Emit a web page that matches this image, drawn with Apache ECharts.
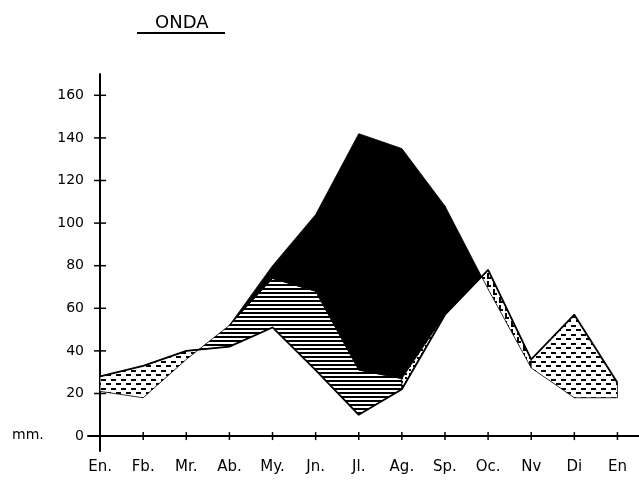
<!DOCTYPE html>
<html>
<head>
<meta charset="utf-8">
<script src="https://cdn.jsdelivr.net/npm/echarts@6/dist/echarts.min.js"></script>
<style>
  html, body { margin: 0; padding: 0; background: #fff; }
  #chart { width: 639px; height: 484px; }
</style>
</head>
<body>
<div id="chart"></div>
<script>
// meses (el último es enero otra vez)
var months = ['En.', 'Fb.', 'Mr.', 'Ab.', 'My.', 'Jn.', 'Jl.', 'Ag.', 'Sp.', 'Oc.', 'Nv', 'Di', 'En'];
var monthTicks = [0, 1, 2, 3, 4, 5, 6, 7, 8, 9, 10, 11, 12];
var yTicks = [0, 20, 40, 60, 80, 100, 120, 140, 160];

// precipitación, ETP y ETR en mm
var precip = [28, 33, 40, 42, 51, 31, 10, 22, 57, 78, 36, 57, 25];
var etp    = [21, 18, 36, 52, 80, 104, 142, 135, 108, 69, 32, 18, 18];
var etr    = [21, 18, 36, 52, 74, 68, 31, 27, 57, 69, 32, 18, 18];

var FONT = 'DejaVu Sans';

function valueAt(arr, x) {
  var i = Math.min(Math.floor(x), arr.length - 2);
  var t = x - i;
  return arr[i] * (1 - t) + arr[i + 1] * t;
}

// punto donde se cruzan dos curvas dentro del tramo i..i+1
function crossing(a, b, i) {
  var d0 = a[i] - b[i], d1 = a[i + 1] - b[i + 1];
  return i + d0 / (d0 - d1);
}

function makePattern(w, h, draw) {
  var c = document.createElement('canvas');
  c.width = w;
  c.height = h;
  var ctx = c.getContext('2d');
  ctx.fillStyle = '#fff';
  ctx.fillRect(0, 0, w, h);
  ctx.fillStyle = '#000';
  draw(ctx);
  return { image: c, repeat: 'repeat' };
}

var dashes = makePattern(10, 9, function (ctx) {
  ctx.fillRect(1, 1, 5, 2);
  ctx.fillRect(6, 5, 4, 2);
  ctx.fillRect(0, 5, 1, 2);
});
var hatch = makePattern(4, 4, function (ctx) {
  ctx.fillRect(0, 0, 4, 2);
});
var dots = makePattern(4, 4, function (ctx) {
  ctx.fillRect(1, 1, 2, 2);
});
var recharge = makePattern(6, 8, function (ctx) {
  ctx.fillRect(1, 1, 2, 5);
  ctx.fillRect(1, 5, 4, 2);
});

var c1 = crossing(precip, etp, 2);
var c2 = crossing(precip, etp, 8);

// zonas: exceso, utilización, déficit, recarga
var regions = [
  { upper: precip, lower: etp, from: 0, to: c1, fill: dashes },
  { upper: etr, lower: precip, from: c1, to: 7, fill: hatch },
  { upper: etp, lower: etr, from: 3, to: 8, fill: '#000' },
  { upper: etp, lower: precip, from: 8, to: c2, fill: '#000' },
  { upper: etr, lower: precip, from: 7, to: 8, fill: dots },
  { upper: precip, lower: etp, from: c2, to: 10, fill: recharge },
  { upper: precip, lower: etp, from: 10, to: 12, fill: dashes }
];

function renderRegion(params, api) {
  var r = regions[params.dataIndex];
  var xs = [r.from];
  for (var k = Math.floor(r.from) + 1; k < r.to; k++) xs.push(k);
  xs.push(r.to);
  var top = xs.map(function (x) { return api.coord([x, valueAt(r.upper, x)]); });
  var bottom = xs.slice().reverse().map(function (x) { return api.coord([x, valueAt(r.lower, x)]); });
  return {
    type: 'polygon',
    shape: { points: top.concat(bottom) },
    style: { fill: r.fill, stroke: '#000', lineWidth: 0.8 }
  };
}

// marcas que cruzan el eje (a ambos lados)
function renderXTick(params, api) {
  var p = api.coord([api.value(0), 0]);
  return { type: 'line', shape: { x1: p[0], y1: p[1] - 4, x2: p[0], y2: p[1] + 4 }, style: { stroke: '#000', lineWidth: 1.5 } };
}
function renderYTick(params, api) {
  var p = api.coord([0, api.value(1)]);
  return { type: 'line', shape: { x1: p[0] - 6, y1: p[1], x2: p[0] + 6, y2: p[1] }, style: { stroke: '#000', lineWidth: 1.5 } };
}

var chart = echarts.init(document.getElementById('chart'), null, { renderer: 'canvas' });

chart.setOption({
  animation: false,
  backgroundColor: '#fff',
  title: {
    text: 'ONDA', left: 150, top: 9,
    textStyle: { fontFamily: FONT, fontSize: 18, fontWeight: 'normal', color: '#000' }
  },
  grid: { left: 88, right: 0, top: 74, bottom: 33, containLabel: false, outerBoundsMode: 'none' },
  xAxis: {
    type: 'value', min: -0.28, max: 12.5, position: 'bottom',
    splitLine: { show: false },
    axisLine: { onZero: true, lineStyle: { color: '#000', width: 2 } },
    axisTick: { show: false },
    axisLabel: {
      customValues: monthTicks, margin: 9, color: '#000', fontSize: 15, fontFamily: FONT,
      formatter: function (v) { return months[Math.round(v)]; }
    }
  },
  yAxis: {
    type: 'value', min: -7, max: 170, position: 'left',
    splitLine: { show: false },
    axisLine: { show: true, onZero: true, lineStyle: { color: '#000', width: 2 } },
    axisTick: { show: false },
    axisLabel: { customValues: yTicks, margin: 4, color: '#000', fontSize: 14, fontFamily: FONT }
  },
  graphic: [
    { type: 'line', shape: { x1: 137, y1: 33, x2: 225, y2: 33 }, style: { stroke: '#000', lineWidth: 2 } },
    { type: 'text', x: 12, y: 435, style: { text: 'mm.', fill: '#000', font: '14px "DejaVu Sans"', verticalAlign: 'middle' } }
  ],
  series: [
    {
      type: 'custom',
      renderItem: renderRegion,
      data: regions.map(function (r) { return [r.from, 0]; }),
      encode: { x: 0, y: 1 },
      clip: false,
      silent: true,
      z: 2
    },
    {
      type: 'line',
      data: precip.map(function (v, i) { return [i, v]; }),
      symbol: 'none',
      lineStyle: { color: '#000', width: 1.8 },
      silent: true,
      z: 3
    },
    {
      type: 'custom',
      renderItem: renderXTick,
      data: monthTicks.map(function (v) { return [v, 0]; }),
      encode: { x: 0, y: 1 },
      clip: false,
      silent: true,
      z: 4
    },
    {
      type: 'custom',
      renderItem: renderYTick,
      data: yTicks.map(function (v) { return [0, v]; }),
      encode: { x: 0, y: 1 },
      clip: false,
      silent: true,
      z: 4
    }
  ]
});
</script>
</body>
</html>
